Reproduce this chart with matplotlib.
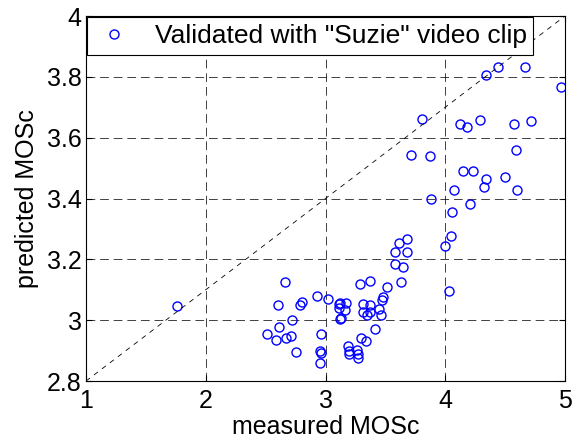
import numpy as np
import matplotlib
matplotlib.use("Agg")
import matplotlib.pyplot as plt

plt.rcParams['font.family'] = ['Liberation Sans', 'DejaVu Sans']

# measured vs predicted MOSc, "Suzie" clip
measured = [1.76, 2.66, 2.60, 2.80, 2.79, 2.93, 3.02, 2.72, 2.61, 2.51,
            2.59, 2.67, 2.71, 2.96, 2.75, 2.95, 2.96, 2.95, 3.11, 3.12,
            3.17, 3.11, 3.16, 3.12, 3.13, 3.29, 3.37, 3.51, 3.48, 3.47,
            3.31, 3.37, 3.31, 3.37, 3.35, 3.45, 3.46, 3.41, 3.30, 3.34,
            3.19, 3.20, 3.26, 3.20, 3.27, 3.27, 3.58, 3.65, 3.63, 3.68,
            3.61, 3.58, 3.68, 4.03, 4.00, 4.05, 4.06, 4.21, 3.88, 4.07,
            4.32, 4.34, 4.15, 4.23, 4.50, 4.60, 3.71, 3.87, 4.59, 3.81,
            4.12, 4.18, 4.29, 4.57, 4.72, 4.34, 4.44, 4.67, 4.97]
predicted = [3.046, 3.124, 3.049, 3.060, 3.049, 3.078, 3.069, 3.000, 2.979, 2.955,
             2.936, 2.943, 2.947, 2.954, 2.897, 2.900, 2.893, 2.858, 3.052, 3.055,
             3.058, 3.041, 3.034, 3.004, 3.008, 3.118, 3.130, 3.110, 3.075, 3.068,
             3.054, 3.051, 3.027, 3.028, 3.018, 3.036, 3.017, 2.972, 2.940, 2.931,
             2.916, 2.899, 2.902, 2.888, 2.889, 2.876, 3.184, 3.175, 3.124, 3.268,
             3.254, 3.225, 3.223, 3.097, 3.244, 3.277, 3.355, 3.382, 3.399, 3.429,
             3.439, 3.465, 3.490, 3.490, 3.472, 3.429, 3.544, 3.540, 3.560, 3.662,
             3.646, 3.634, 3.659, 3.646, 3.656, 3.805, 3.834, 3.834, 3.768]

xticks = [1, 2, 3, 4, 5]
yticks = [2.8, 3, 3.2, 3.4, 3.6, 3.8, 4]
ytick_labels = ["2.8", "3", "3.2", "3.4", "3.6", "3.8", "4"]

fs = 18

fig = plt.figure(figsize=(5.78, 4.41), dpi=100)
ax = fig.add_axes([0.1488, 0.136, 0.8287, 0.8277])

ax.plot(measured, predicted, 'o', color='blue', markerfacecolor='none',
        markersize=6.5, markeredgewidth=1.0,
        label='Validated with "Suzie" video clip')
# corner-to-corner reference line
ax.plot([1, 5], [2.8, 4], color='black', linestyle=(0, (6, 6)), linewidth=0.6)

ax.set_xlim(1, 5)
ax.set_ylim(2.8, 4)
ax.set_xticks(xticks)
ax.set_yticks(yticks)
ax.set_yticklabels(ytick_labels)
ax.grid(True, color='black', linestyle=(0, (9, 5)), linewidth=0.7, alpha=0.75)
ax.tick_params(direction='in', labelsize=fs, length=4,
               top=True, right=True)
ax.tick_params(axis='x', pad=6)
ax.tick_params(axis='y', pad=3)
for s in ax.spines.values():
    s.set_linewidth(0.8)

ax.set_xlabel('measured MOSc', fontsize=fs, labelpad=1)
ax.set_ylabel('predicted MOSc', fontsize=fs, labelpad=6)

leg = ax.legend(loc='upper left', fontsize=19, fancybox=False, framealpha=1,
                edgecolor='black', borderaxespad=0.05, handlelength=1.5,
                borderpad=0.25, handletextpad=0.8)
leg.get_frame().set_linewidth(0.8)

fig.savefig('out.png', dpi=100)
